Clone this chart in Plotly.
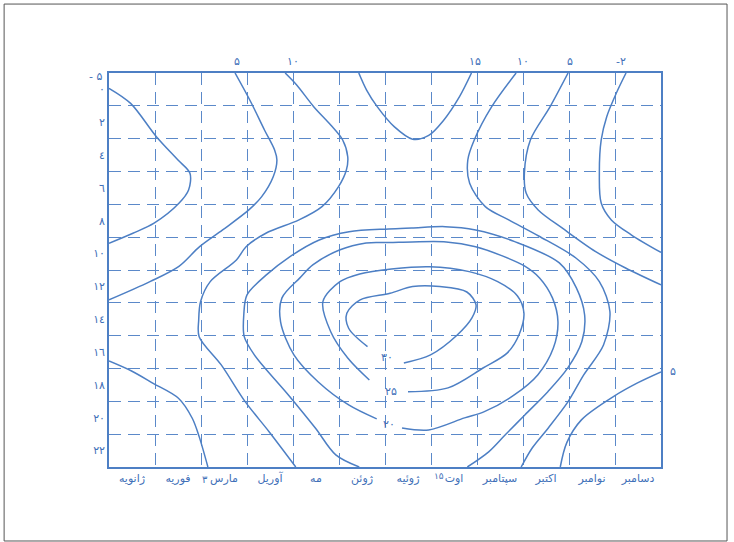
import plotly.graph_objects as go

# --- axes -------------------------------------------------------------
MONTHS = ["ژانویه", "فوریه", "مارس", "آوریل", "مه", "ژوئن",
          "ژوئیه", "اوت", "سپتامبر", "اکتبر", "نوامبر", "دسامبر"]
MONTH_POS = list(range(12))
HOURS = [0, 2, 4, 6, 8, 10, 12, 14, 16, 18, 20, 22]
HOUR_LABELS = ["۰", "۲", "٤", "٦", "۸", "۱۰", "۱۲", "۱٤", "۱٦", "۱۸", "۲۰", "۲۲"]

# --- isotherms (month index, hour of day) -----------------------------
west_cold_month = [-0.5, -0.03, 0.53, 1.0, 1.26, 1.23, 1.02, 0.48, 0.02, -0.5]
west_cold_hour = [-0.07, 0.85, 2.88, 4.30, 5.11, 6.13, 6.94, 8.15, 8.76, 9.37]

west_5_month = [2.24, 2.58, 2.88, 3.10, 3.15, 3.07, 2.82, 2.54, 1.97, 1.47, 1.02, 0.39, -0.5]
west_5_hour = [-1.0, 0.75, 2.47, 3.69, 4.30, 5.32, 6.53, 7.34, 8.56, 9.58, 10.78, 11.71, 12.82]

west_10_month = [3.33, 3.58, 3.95, 4.32, 4.58, 4.69, 4.66, 4.49, 4.13, 3.63, 2.91, 2.48,
                 2.27, 1.70, 1.49, 1.45, 1.46, 1.94, 2.46, 2.98, 3.56]
west_10_hour = [-1.0, -0.27, 1.05, 2.17, 3.08, 4.10, 4.91, 5.92, 7.14, 7.95, 8.76, 9.58,
                10.39, 11.71, 12.93, 14.04, 15.06, 16.78, 19.02, 20.85, 23.0]

night_15_month = [4.93, 5.10, 5.33, 5.70, 6.10, 6.45, 6.78, 7.12, 7.38]
night_15_hour = [-1.0, 0.04, 1.05, 2.27, 3.03, 2.80, 1.86, 0.44, -1.0]

day_15_month = [4.94, 4.43, 3.99, 3.40, 2.66, 2.44, 2.43, 2.50, 2.92, 3.42, 4.07, 4.72, 5.58,
                6.08, 6.81, 7.47, 8.32, 9.29, 9.66, 9.84, 9.78, 9.47, 9.04, 8.54, 8.11, 7.76, 7.29]
day_15_hour = [23.0, 22.26, 20.64, 18.61, 16.17, 15.06, 13.74, 12.52, 11.30, 10.21, 9.17, 8.67, 8.50,
               8.44, 8.36, 8.56, 9.27, 10.57, 12.09, 13.74, 15.36, 16.98, 18.41, 19.83, 21.05, 22.06, 23.0]

day_20_month = [5.87, 6.45, 7.23, 7.66, 8.31, 8.82, 9.16, 9.26, 9.14, 8.86, 8.53, 8.05, 7.47,
                6.83, 6.09, 5.59, 5.09, 4.51, 3.93, 3.65, 3.26, 3.23, 3.52, 4.05, 4.71, 5.32]
day_20_hour = [20.62, 20.74, 20.01, 19.63, 18.61, 17.39, 15.75, 14.15, 12.70, 11.48, 10.75, 10.14, 9.58,
               9.29, 9.29, 9.33, 9.35, 9.78, 10.69, 11.48, 12.70, 14.16, 16.17, 17.82, 19.22, 20.07]

day_25_month = [6.00, 6.87, 7.63, 8.16, 8.42, 8.52, 8.38, 7.95, 7.33, 6.47, 5.64, 4.95, 4.52,
                4.15, 4.32, 4.69, 5.16]
day_25_hour = [18.41, 18.18, 16.97, 16.05, 14.90, 13.62, 12.58, 11.71, 11.10, 10.80, 10.94, 11.24, 11.71,
               12.93, 14.76, 16.36, 17.70]

day_30_month = [5.91, 6.49, 7.07, 7.39, 7.48, 7.28, 6.69, 6.10, 5.61, 4.96, 4.67, 4.71, 5.12]
day_30_hour = [16.66, 16.17, 14.96, 13.92, 13.13, 12.34, 12.01, 12.01, 12.42, 12.82, 13.63, 14.55, 15.67]

east_10_month = [8.35, 7.82, 7.44, 7.30, 7.34, 7.68, 8.19, 8.84, 9.65, 10.16, 10.39, 10.25, 9.82,
                 9.48, 9.05, 8.70, 8.46]
east_10_hour = [-1.0, 1.05, 3.08, 4.30, 5.72, 7.14, 7.95, 8.93, 10.27, 11.71, 13.54, 15.57, 17.39,
                19.02, 20.62, 21.84, 23.0]

east_5_month = [9.48, 9.09, 8.66, 8.53, 8.57, 8.83, 9.38, 10.08, 10.73, 11.5]
east_5_hour = [-1.0, 1.05, 3.08, 5.11, 6.33, 7.34, 8.50, 9.88, 10.88, 11.91]

east_cold_month = [10.74, 10.53, 10.32, 10.20, 10.16, 10.20, 10.42, 10.86, 11.5]
east_cold_hour = [-1.0, 0.22, 1.66, 3.08, 5.11, 6.92, 7.95, 8.87, 9.93]

east_eve_month = [11.5, 10.99, 10.49, 9.77, 9.45, 9.31]
east_eve_hour = [17.21, 17.88, 18.67, 20.13, 21.53, 23.0]

west_eve_month = [-0.5, -0.01, 0.46, 1.01, 1.31, 1.46, 1.65]
west_eve_hour = [16.54, 17.15, 17.90, 18.81, 20.03, 21.15, 23.0]

ISOTHERMS = [
    (west_cold_month, west_cold_hour), (west_5_month, west_5_hour),
    (west_10_month, west_10_hour), (night_15_month, night_15_hour),
    (day_15_month, day_15_hour), (day_20_month, day_20_hour),
    (day_25_month, day_25_hour), (day_30_month, day_30_hour),
    (east_10_month, east_10_hour), (east_5_month, east_5_hour),
    (east_cold_month, east_cold_hour), (east_eve_month, east_eve_hour),
    (west_eve_month, west_eve_hour),
]

# labels written on the isotherms inside the frame
inner_label_text = ["۳۰", "۲۵", "۲۰"]
inner_label_month = [5.54, 5.64, 5.58]
inner_label_hour = [16.36, 18.43, 20.44]

# labels written above the frame where isotherms leave the top edge
top_label_text = ["۵", "۱۰", "۱۵", "۱۰", "۵", "-۲"]
top_label_month = [2.28, 3.49, 7.46, 8.51, 9.53, 10.63]

LINE = "#4d7fc4"
GRID = "#5b89c9"
TEXT = "#3f70b8"
FONT = "DejaVu Sans"

fig = go.Figure()
for mon, hr in ISOTHERMS:
    fig.add_trace(go.Scatter(
        x=mon, y=hr, mode="lines",
        line=dict(color=LINE, width=1.5, shape="spline", smoothing=0.9),
        hoverinfo="skip", showlegend=False,
    ))

ann = []
for t, m, h in zip(inner_label_text, inner_label_month, inner_label_hour):
    ann.append(dict(x=m, y=h, xref="x", yref="y", text=t, showarrow=False,
                    font=dict(family=FONT, size=11, color=TEXT)))
for t, m in zip(top_label_text, top_label_month):
    ann.append(dict(x=m, y=1.05, xref="x", yref="paper", text=t, showarrow=False,
                    font=dict(family=FONT, size=11, color=TEXT)))
# right edge label of the evening isotherm
ann.append(dict(x=1.013, y=17.21, xref="paper", yref="y", text="۵", showarrow=False,
                xanchor="left", font=dict(family=FONT, size=11, color=TEXT)))
# top-left corner note
ann.append(dict(x=-0.04, y=1.012, xref="paper", yref="paper", text="- ۵", showarrow=False,
                font=dict(family=FONT, size=11, color=TEXT)))
# small notes along the month row
ann.append(dict(x=1.58, y=-0.05, xref="x", yref="paper", text="۳", showarrow=False,
                font=dict(family=FONT, size=10, color=TEXT)))
ann.append(dict(x=6.68, y=-0.04, xref="x", yref="paper", text="۱۵", showarrow=False,
                font=dict(family=FONT, size=9, color=TEXT)))

fig.update_layout(
    width=734, height=542,
    margin=dict(l=109, r=73, t=73, b=75),
    paper_bgcolor="white", plot_bgcolor="white",
    annotations=ann,
    shapes=[dict(type="rect", xref="paper", yref="paper",
                 x0=-0.190, x1=1.1196, y0=-0.1878, y1=1.175,
                 line=dict(color="#555555", width=1))],
    xaxis=dict(
        range=[-0.5, 11.5], tickmode="array", tickvals=MONTH_POS, ticktext=MONTHS,
        showgrid=False, zeroline=False, ticks="",
        showline=True, mirror=True, linecolor=LINE, linewidth=1.6,
        tickfont=dict(family=FONT, size=11, color=TEXT),
        minor=dict(tickmode="array", tickvals=[i + 0.5 for i in range(11)],
                   showgrid=True, gridcolor=GRID, gridwidth=1.3, griddash="12px,7px"),
    ),
    yaxis=dict(
        range=[23, -1], tickmode="array", tickvals=HOURS, ticktext=HOUR_LABELS,
        showgrid=False, zeroline=False, ticks="",
        showline=True, mirror=True, linecolor=LINE, linewidth=1.6,
        tickfont=dict(family=FONT, size=11, color=TEXT),
        minor=dict(tickmode="array", tickvals=[h + 1 for h in HOURS[:-1]],
                   showgrid=True, gridcolor=GRID, gridwidth=1.3, griddash="12px,7px"),
    ),
)

fig.write_html("out.html")
